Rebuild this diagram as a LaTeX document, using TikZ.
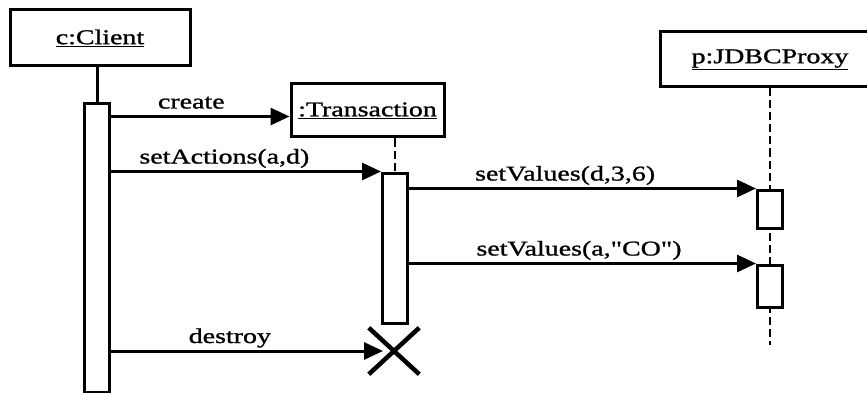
\documentclass[tikz,border=0pt]{standalone}
\usepackage{fontspec}
\setmainfont[FakeStretch=1.33, FakeBold=1.2, Ligatures=TeXOff]{Liberation Serif}
\usetikzlibrary{arrows.meta, positioning, shapes.misc}

\begin{document}
\begin{tikzpicture}[
    x=1pt, y=-1pt,
    obj/.style={draw, line width=3pt, inner sep=0pt, font=\fontsize{21}{24}\selectfont},
    act/.style={draw, fill=white, line width=3pt, minimum width=25pt, inner sep=0pt},
    life/.style={line width=2.6pt, dash pattern=on 8pt off 4pt},
    msg/.style={line width=3pt, -{Triangle[length=19pt, width=17pt]}},
    lbl/.style={anchor=base, yshift=8pt, font=\fontsize{21}{24}\selectfont}
]
    \useasboundingbox (0,0) rectangle (867,393);

    % objects across the top
    \node[obj, minimum width=180pt, minimum height=56pt] (client) at (100,38)    {\underline{c:Client}};
    \node[obj, minimum width=153pt, minimum height=53pt] (trans)  at (367.5,110.5) {\underline{:Transaction}};
    \node[obj, minimum width=220pt, minimum height=55pt] (proxy)  at (770,59.5)  {\underline{p:JDBCProxy}};

    \coordinate (tin)  at ([yshift=-6pt]trans.west);
    \coordinate (pend) at (770,345);

    % lifelines (drawn first, activations cover them)
    \node[act, minimum height=288pt] (cact)  at (97,248)  {};
    \node[act, minimum height=150pt] (tact)  at (395,248) {};
    \draw[line width=3pt] (cact.north |- client.south) -- (cact.north);
    \draw[life] (tact.north |- trans.south) -- (tact.north);
    \draw[life] (proxy.south) -- (pend);
    \node[act, minimum height=38pt] (pact1) at (770,209) {};
    \node[act, minimum height=42pt] (pact2) at (770,286) {};

    % end of the transaction
    \node[draw, cross out, line width=4.5pt, minimum width=46pt, minimum height=42pt, inner sep=0pt] (xmark) at (394,351) {};

    % messages
    \draw[msg] (cact.east |- tin) -- (tin) node[lbl, pos=0.45] {create};
    \draw[msg] (cact.east |- tact.north west) -- (tact.north west) node[lbl, pos=0.42] {setActions(a,d)};
    \draw[msg] (tact.east |- pact1.north west) -- (pact1.north west) node[lbl, pos=0.45] {setValues(d,3,6)};
    \draw[msg] (tact.east |- pact2.north west) -- (pact2.north west) node[lbl, pos=0.49] {setValues(a,"CO")};
    \draw[msg, shorten >=11pt] (cact.east |- xmark.center) -- (xmark.center) node[lbl, pos=0.42] {destroy};
\end{tikzpicture}
\end{document}
